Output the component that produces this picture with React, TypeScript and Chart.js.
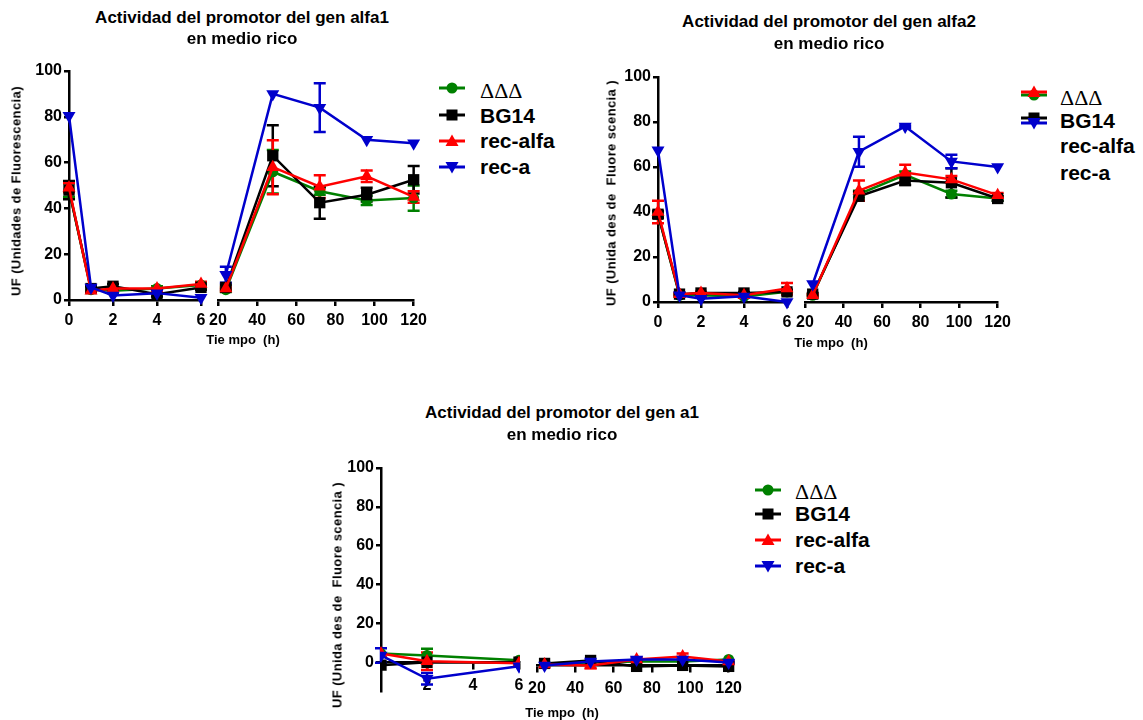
import React, { useEffect, useRef } from "react";
import { Chart, registerables } from "chart.js";

Chart.register(...registerables);

// ---------------- data ----------------
const SERIES_NAMES = ["ΔΔΔ", "BG14", "rec-alfa", "rec-a"];

const TIMES_AB = [0, 1, 2, 4, 6, 24, 48, 72, 96, 120];
const TIMES_C = [0, 2, 6, 24, 48, 72, 96, 120];

// alfa1
const ALFA1_DDD = [48, 4.5, 4, 5, 6.5, 4.5, 56, 47.5, 43.5, 44.5];
const ALFA1_DDD_ERR = [3, 1, 1, 1, 1, 1, 9.5, 1.5, 2, 5.5];
const ALFA1_BG14 = [48, 5, 6, 2.5, 5.5, 5.5, 63, 42.5, 46, 52.5];
const ALFA1_BG14_ERR = [4, 1, 1, 1, 1, 1, 13.3, 7, 3, 6];
const ALFA1_RECALFA = [49, 4, 5, 5, 7, 5, 58, 49.5, 54, 45];
const ALFA1_RECALFA_ERR = [2, 0.5, 0.5, 0.5, 1, 0.5, 11.8, 5, 2.5, 2.5];
const ALFA1_RECA = [80.5, 5.5, 2, 3, 1, 11, 90, 84, 70, 68.5];
const ALFA1_RECA_ERR = [0, 0, 0, 0, 0, 3.5, 0, 10.6, 0, 0];

// alfa2
const ALFA2_DDD = [39, 3, 3, 2.5, 4.5, 3, 48, 56.5, 48, 46];
const ALFA2_DDD_ERR = [1, 0.5, 0.5, 0.5, 0.5, 0.5, 1.5, 1.5, 1.5, 1];
const ALFA2_BG14 = [39, 3.5, 4, 4, 4.5, 3.5, 47, 54, 53, 46];
const ALFA2_BG14_ERR = [1.5, 0.5, 0.5, 0.5, 1, 0.5, 2, 2, 6.5, 1];
const ALFA2_RECALFA = [40, 3.5, 4, 3, 6, 3, 49.5, 57.5, 54.5, 47.5];
const ALFA2_RECALFA_ERR = [5, 0.5, 0.5, 0.5, 2.5, 0.5, 4.5, 3.5, 1.5, 1];
const ALFA2_RECA = [67.5, 3, 1.5, 2.5, 0, 8, 66.8, 78, 62.5, 60];
const ALFA2_RECA_ERR = [0, 0, 0, 0, 0, 0, 6.7, 0.5, 3, 0];

// a1
const A1_DDD = [4.5, 3.5, 1, 1, 1.5, 2, 2, 3];
const A1_DDD_ERR = [0, 3.5, 0, 0, 0, 0, 0, 0];
const A1_BG14 = [-1.5, 0, 0, 1, 2.5, -0.5, 0, -0.5];
const A1_BG14_ERR = [0, 0, 0, 0, 0, 0, 0, 0];
const A1_RECALFA = [4.5, 0.5, -0.5, 0.5, 0, 3, 4.5, 2];
const A1_RECALFA_ERR = [0, 4.5, 0, 0, 1.5, 1, 1.5, 0.5];
const A1_RECA = [3.5, -8.5, -2, 0, 2, 3, 3, 1.5];
const A1_RECA_ERR = [3.7, 3, 0, 0, 0.5, 1, 1, 0.5];

// tick labels
const Y_TICKS = [0, 20, 40, 60, 80, 100];
const X_TICKS_EARLY = [0, 2, 4, 6];
const X_TICKS_EARLY_C = [2, 4, 6];
const X_TICKS_LATE = [20, 40, 60, 80, 100, 120];

// ---------------- styles ----------------
const FONT = '"Liberation Sans", Arial, Helvetica, sans-serif';
const SERIF = '"Liberation Serif", "Times New Roman", serif';

type SeriesStyle = { color: string; pointStyle: string; radius: number; rotation: number; order: number };
const STYLES: SeriesStyle[] = [
  { color: "#008000", pointStyle: "circle", radius: 5.5, rotation: 0, order: 4 },
  { color: "#000000", pointStyle: "rect", radius: 8, rotation: 0, order: 3 },
  { color: "#ff0000", pointStyle: "triangle", radius: 7.5, rotation: 0, order: 2 },
  { color: "#0000cc", pointStyle: "triangle", radius: 7.5, rotation: 180, order: 1 },
];

const errorBarPlugin = {
  id: "errorBars",
  beforeDatasetsDraw(chart: any) {
    const ctx = chart.ctx;
    const ys = chart.scales.y;
    const metas = chart.getSortedVisibleDatasetMetas().slice().reverse();
    metas.forEach((meta: any) => {
      const ds: any = chart.data.datasets[meta.index];
      if (!ds.errors) return;
      ctx.save();
      ctx.strokeStyle = ds.borderColor;
      ctx.lineWidth = 2.5;
      meta.data.forEach((el: any, i: number) => {
        const e = ds.errors[i];
        if (!e) return;
        const v = ds.data[i].y;
        const yt = ys.getPixelForValue(v + e);
        const yb = ys.getPixelForValue(v - e);
        const x = el.x;
        ctx.beginPath();
        ctx.moveTo(x, yt);
        ctx.lineTo(x, yb);
        ctx.moveTo(x - 6, yt);
        ctx.lineTo(x + 6, yt);
        ctx.moveTo(x - 6, yb);
        ctx.lineTo(x + 6, yb);
        ctx.stroke();
      });
      ctx.restore();
    });
  },
};

type SeriesData = { values: number[]; errors: number[] };

type SegProps = {
  left: number;
  top: number;
  width: number;
  height: number;
  padding: { top: number; right: number; bottom: number; left: number };
  yW: number;
  xH: number;
  showY: boolean;
  yMin: number;
  yMax: number;
  xMin: number;
  xMax: number;
  xTicks: number[];
  times: number[];
  series: SeriesData[];
  early: boolean;
  axisAtZero: boolean;
  clipData: boolean;
};

function Segment(p: SegProps) {
  const ref = useRef<HTMLCanvasElement>(null);
  useEffect(() => {
    if (!ref.current) return;
    const tickFont = { family: FONT, size: 16, weight: "bold" as const };
    const inSeg = (t: number) => (p.early ? t <= 6 : t >= 20);
    const datasets = p.series.map((s, si) => {
      const st = STYLES[si];
      const data: { x: number; y: number }[] = [];
      const errs: number[] = [];
      p.times.forEach((t, i) => {
        if (inSeg(t)) {
          data.push({ x: t, y: s.values[i] });
          errs.push(s.errors[i]);
        }
      });
      const ds: any = {
        label: SERIES_NAMES[si],
        data,
        errors: errs,
        borderColor: st.color,
        backgroundColor: st.color,
        borderWidth: 2.5,
        pointStyle: st.pointStyle,
        pointRadius: st.radius,
        pointRotation: st.rotation,
        pointBorderWidth: 0,
        pointBackgroundColor: st.color,
        order: st.order,
        tension: 0,
      };
      ds.clip = p.clipData ? 1 : false;
      return ds;
    });
    const chart = new Chart(ref.current, {
      type: "line",
      data: { datasets },
      plugins: [errorBarPlugin as any],
      options: {
        animation: false,
        responsive: false,
        maintainAspectRatio: false,
        events: [],
        layout: { padding: p.padding },
        plugins: { legend: { display: false }, tooltip: { enabled: false }, title: { display: false } },
        scales: {
          x: {
            type: "linear",
            min: p.xMin,
            max: p.xMax,
            position: p.axisAtZero ? ({ y: 0 } as any) : "bottom",
            afterBuildTicks: (s: any) => {
              s.ticks = p.xTicks.map((v) => ({ value: v }));
            },
            afterFit: (s: any) => {
              s.height = p.axisAtZero ? 0 : p.xH;
            },
            ticks: { font: tickFont, color: "#000", padding: p.axisAtZero ? 8 : 5, maxRotation: 0, autoSkip: false },
            grid: { display: true, drawOnChartArea: false, drawTicks: true, tickLength: 6, color: "#000", lineWidth: 2.5 },
            border: { display: true, color: "#000", width: 2.5 },
          },
          y: {
            type: "linear",
            display: p.showY,
            min: p.yMin,
            max: p.yMax,
            afterBuildTicks: (s: any) => {
              s.ticks = Y_TICKS.map((v) => ({ value: v }));
            },
            afterFit: (s: any) => {
              s.width = p.showY ? p.yW : 0;
            },
            ticks: { font: tickFont, color: "#000", padding: 2 },
            grid: { display: true, drawOnChartArea: false, drawTicks: true, tickLength: 5, color: "#000", lineWidth: 2.5 },
            border: { display: true, color: "#000", width: 2.5 },
          },
        },
      } as any,
    });
    return () => chart.destroy();
  }, []);
  return (
    <canvas
      ref={ref}
      width={p.width}
      height={p.height}
      style={{ position: "absolute", left: p.left, top: p.top, width: p.width, height: p.height }}
    />
  );
}

type PanelGeom = {
  title: string[];
  titleX: number;
  titleY: number[];
  yTitle: string;
  yTitleX: number;
  yTitleY: number;
  xTitle: string;
  xTitleX: number;
  xTitleY: number;
  axisX: number;
  top: number;
  bottom: number;
  yMin: number;
  yMax: number;
  earlyRight: number;
  lateLeft: number;
  lateRight: number;
  axisAtZero: boolean;
  times: number[];
  series: SeriesData[];
  earlyTicks: number[];
  legendMarkerX: number;
  legendMarkerY: number[];
  legendTextX: number;
  legendTextY: number[];
};

function LegendMarker({ si, x, y }: { si: number; x: number; y: number }) {
  const st = STYLES[si];
  let shape: any;
  if (st.pointStyle === "circle") shape = <circle cx={14} cy={8} r={5.5} fill={st.color} />;
  else if (st.pointStyle === "rect") shape = <rect x={8.5} y={2.5} width={11} height={11} fill={st.color} />;
  else if (st.rotation === 0) shape = <polygon points="14,1.5 20.5,13 7.5,13" fill={st.color} />;
  else shape = <polygon points="14,14.5 20.5,3 7.5,3" fill={st.color} />;
  return (
    <svg width={28} height={16} style={{ position: "absolute", left: x - 14, top: y - 8 }}>
      <line x1={1} y1={8} x2={27} y2={8} stroke={st.color} strokeWidth={3} />
      {shape}
    </svg>
  );
}

function Panel({ g }: { g: PanelGeom }) {
  const pad = { top: 14, right: 18, bottom: 4, left: 4 };
  const padLate = { top: 14, right: 18, bottom: 4, left: 16 };
  const yW = 56;
  const xH = 34;
  const areaH = g.bottom - g.top;
  const extraH = g.axisAtZero ? 0 : xH;
  const earlyMax = 6;
  return (
    <>
      <Segment
        left={g.axisX - yW - pad.left}
        top={g.top - pad.top}
        width={g.earlyRight - g.axisX + yW + pad.left + pad.right}
        height={areaH + pad.top + pad.bottom + extraH}
        padding={pad}
        yW={yW}
        xH={xH}
        showY={true}
        yMin={g.yMin}
        yMax={g.yMax}
        xMin={0}
        xMax={earlyMax}
        xTicks={g.earlyTicks}
        times={g.times}
        series={g.series}
        early={true}
        axisAtZero={g.axisAtZero}
        clipData={g.axisAtZero}
      />
      <Segment
        left={g.lateLeft - padLate.left}
        top={g.top - padLate.top}
        width={g.lateRight - g.lateLeft + padLate.left + padLate.right}
        height={areaH + padLate.top + padLate.bottom + extraH}
        padding={padLate}
        yW={0}
        xH={xH}
        showY={false}
        yMin={g.yMin}
        yMax={g.yMax}
        xMin={20}
        xMax={120}
        xTicks={X_TICKS_LATE}
        times={g.times}
        series={g.series}
        early={false}
        axisAtZero={g.axisAtZero}
        clipData={false}
      />
      {g.title.map((t, i) => (
        <div
          key={"t" + i}
          style={{
            position: "absolute",
            left: g.titleX,
            top: g.titleY[i],
            transform: "translate(-50%, -50%)",
            whiteSpace: "nowrap",
            font: `bold 17px ${FONT}`,
            color: "#000",
          }}
        >
          {t}
        </div>
      ))}
      <div
        style={{
          position: "absolute",
          left: g.yTitleX,
          top: g.yTitleY,
          transform: "translate(-50%, -50%) rotate(-90deg)",
          whiteSpace: "pre",
          font: `bold 13px ${FONT}`,
          letterSpacing: "0.4px",
          color: "#000",
        }}
      >
        {g.yTitle}
      </div>
      <div
        style={{
          position: "absolute",
          left: g.xTitleX,
          top: g.xTitleY,
          transform: "translate(-50%, -50%)",
          whiteSpace: "pre",
          font: `bold 13px ${FONT}`,
          color: "#000",
        }}
      >
        {g.xTitle}
      </div>
      {SERIES_NAMES.map((n, si) => (
        <LegendMarker key={"m" + si} si={si} x={g.legendMarkerX} y={g.legendMarkerY[si]} />
      ))}
      {SERIES_NAMES.map((n, si) => (
        <div
          key={"l" + si}
          style={{
            position: "absolute",
            left: g.legendTextX,
            top: g.legendTextY[si],
            transform: "translateY(-50%)",
            whiteSpace: "nowrap",
            font: si === 0 ? `22px ${SERIF}` : `bold 21px ${FONT}`,
            color: "#000",
            lineHeight: "24px",
          }}
        >
          {n}
        </div>
      ))}
    </>
  );
}

const PANEL_A: PanelGeom = {
  title: ["Actividad del promotor del gen alfa1", "en medio rico"],
  titleX: 242,
  titleY: [18, 39],
  yTitle: "UF (Unidades de Fluorescencia)",
  yTitleX: 16,
  yTitleY: 191,
  xTitle: "Tie mpo  (h)",
  xTitleX: 243,
  xTitleY: 339,
  axisX: 69,
  top: 71,
  bottom: 300,
  yMin: 0,
  yMax: 100,
  earlyRight: 201,
  lateLeft: 218,
  lateRight: 414,
  axisAtZero: false,
  times: TIMES_AB,
  series: [
    { values: ALFA1_DDD, errors: ALFA1_DDD_ERR },
    { values: ALFA1_BG14, errors: ALFA1_BG14_ERR },
    { values: ALFA1_RECALFA, errors: ALFA1_RECALFA_ERR },
    { values: ALFA1_RECA, errors: ALFA1_RECA_ERR },
  ],
  earlyTicks: X_TICKS_EARLY,
  legendMarkerX: 452,
  legendMarkerY: [88, 115, 141, 167],
  legendTextX: 480,
  legendTextY: [91, 116, 141, 167],
};

const PANEL_B: PanelGeom = {
  title: ["Actividad del promotor del gen alfa2", "en medio rico"],
  titleX: 829,
  titleY: [22, 44],
  yTitle: "UF (Unida des de  Fluore scencia )",
  yTitleX: 611,
  yTitleY: 193,
  xTitle: "Tie mpo  (h)",
  xTitleX: 831,
  xTitleY: 342,
  axisX: 658,
  top: 77,
  bottom: 302,
  yMin: 0,
  yMax: 100,
  earlyRight: 787,
  lateLeft: 805,
  lateRight: 998,
  axisAtZero: false,
  times: TIMES_AB,
  series: [
    { values: ALFA2_DDD, errors: ALFA2_DDD_ERR },
    { values: ALFA2_BG14, errors: ALFA2_BG14_ERR },
    { values: ALFA2_RECALFA, errors: ALFA2_RECALFA_ERR },
    { values: ALFA2_RECA, errors: ALFA2_RECA_ERR },
  ],
  earlyTicks: X_TICKS_EARLY,
  legendMarkerX: 1034,
  legendMarkerY: [95, 118, 92, 123],
  legendTextX: 1060,
  legendTextY: [98, 121, 146, 173],
};

const PANEL_C: PanelGeom = {
  title: ["Actividad del promotor del gen a1", "en medio rico"],
  titleX: 562,
  titleY: [413, 435],
  yTitle: "UF (Unida des de  Fluore scencia )",
  yTitleX: 337,
  yTitleY: 595,
  xTitle: "Tie mpo  (h)",
  xTitleX: 562,
  xTitleY: 712,
  axisX: 381,
  top: 468,
  bottom: 699,
  yMin: -15,
  yMax: 100,
  earlyRight: 519,
  lateLeft: 536,
  lateRight: 732,
  axisAtZero: true,
  times: TIMES_C,
  series: [
    { values: A1_DDD, errors: A1_DDD_ERR },
    { values: A1_BG14, errors: A1_BG14_ERR },
    { values: A1_RECALFA, errors: A1_RECALFA_ERR },
    { values: A1_RECA, errors: A1_RECA_ERR },
  ],
  earlyTicks: X_TICKS_EARLY_C,
  legendMarkerX: 768,
  legendMarkerY: [490, 514, 540, 566],
  legendTextX: 795,
  legendTextY: [492, 514, 540, 566],
};

export default function App() {
  return (
    <div
      style={{
        position: "fixed",
        left: 0,
        top: 0,
        width: 1143,
        height: 720,
        background: "#fff",
        overflow: "hidden",
      }}
    >
      <Panel g={PANEL_A} />
      <Panel g={PANEL_B} />
      <Panel g={PANEL_C} />
    </div>
  );
}
